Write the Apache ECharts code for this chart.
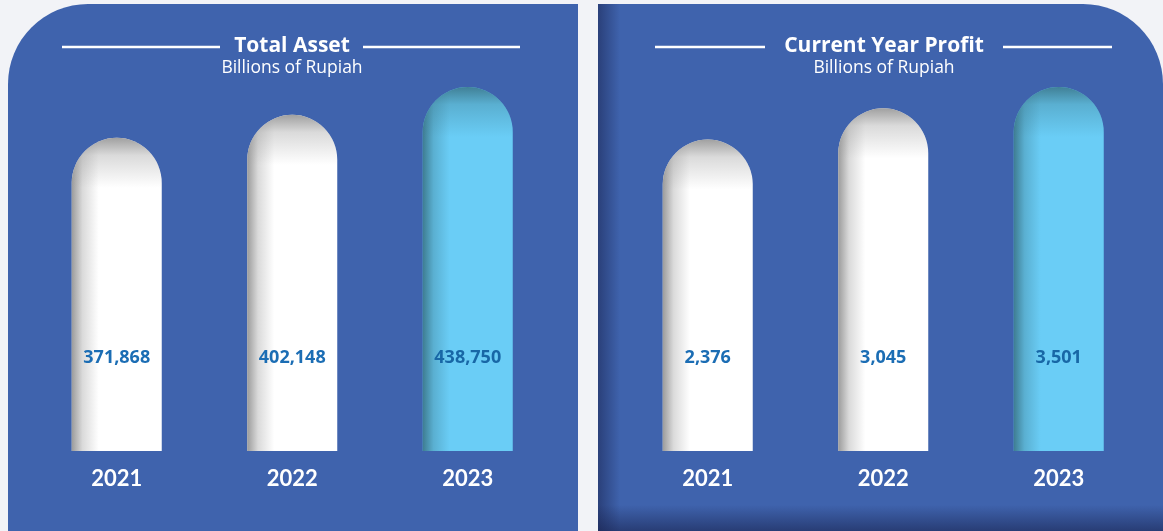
<!DOCTYPE html>
<html>
<head>
<meta charset="utf-8">
<script src="https://cdn.jsdelivr.net/npm/echarts@6/dist/echarts.min.js"></script>
<style>
html,body{margin:0;padding:0;background:#f2f3f7;}
#c{width:1163px;height:531px;}
</style>
</head>
<body>
<div id="c"></div>
<script>
var years = ['2021', '2022', '2023'];
var assetValues = [371868, 402148, 438750];
var profitValues = [2376, 3045, 3501];
var assetTitle = 'Total Asset';
var profitTitle = 'Current Year Profit';
var unitLabel = 'Billions of Rupiah';

var FONT = 'Lato';
var FONT2 = '"Open Sans"';
var PANEL = '#3f63ad';

function fmt(v){ return v.toLocaleString('en-US'); }

function makeRender(values, yMin){
  return function(params, api){
    var i = api.value(0);
    var v = api.value(1);
    var top = api.coord([i, v]);
    var base = api.coord([i, yMin]);
    var w = 90;
    var x = top[0] - w/2;
    var y = top[1];
    var h = base[1] - top[1];
    var last = i === values.length - 1;
    var baseColor = last ? '#6acdf6' : '#ffffff';
    var shade = last ? 'rgba(60,120,140,' : 'rgba(150,150,150,';
    var shape = {x:x, y:y, width:w, height:h, r:[45,45,0,0]};
    return {
      type:'group',
      children:[
        {type:'rect', shape:shape, style:{fill:baseColor}},
        {type:'rect', shape:shape, style:{fill:new echarts.graphic.LinearGradient(0,0,1,0,[
          {offset:0, color:shade+'0.95)'},
          {offset:0.12, color:shade+'0.35)'},
          {offset:0.3, color:shade+'0)'},
          {offset:1, color:shade+'0)'}
        ])}},
        {type:'rect', shape:shape, style:{fill:new echarts.graphic.LinearGradient(0,y,0,y+50,[
          {offset:0, color:shade+'0.9)'},
          {offset:0.35, color:shade+'0.35)'},
          {offset:1, color:shade+'0)'}
        ], true)}},
        {type:'text', style:{x:top[0], y:base[1]-93, text:fmt(v), align:'center', verticalAlign:'middle',
          font:'bold 18px ' + FONT2, fill: last ? '#1867a6' : '#1b6db4'}}
      ]
    };
  };
}

var assetMin = -40000, assetMax = 438750;
var profitMin = -4300, profitMax = 3501;

function titleGraphics(cx, text, lx1, lx2, rx1, rx2){
  return [
    {type:'line', shape:{x1:lx1, y1:47, x2:lx2, y2:47}, style:{stroke:'#fff', lineWidth:2.5}},
    {type:'line', shape:{x1:rx1, y1:47, x2:rx2, y2:47}, style:{stroke:'#fff', lineWidth:2.5}},
    {type:'text', style:{x:cx, y:46, text:text, align:'center', verticalAlign:'middle', font:'bold 21px ' + FONT2, fill:'#fff'}},
    {type:'text', style:{x:cx, y:68, text:unitLabel, align:'center', verticalAlign:'middle', font:'17.5px ' + FONT2, fill:'#fff'}}
  ];
}

var chart = echarts.init(document.getElementById('c'));
var graphics = [
  {type:'rect', z:-10, shape:{x:8, y:4, width:570, height:540, r:[80,0,0,0]}, style:{fill:PANEL}},
  {type:'rect', z:-10, shape:{x:598, y:4, width:565, height:540, r:[0,80,0,0]}, style:{fill:PANEL}},
  {type:'rect', z:-9, shape:{x:598, y:4, width:22, height:527}, style:{fill:new echarts.graphic.LinearGradient(0,0,1,0,[
    {offset:0, color:'rgba(25,35,80,0.55)'},{offset:1, color:'rgba(25,35,80,0)'}])}},
  {type:'rect', z:-9, shape:{x:598, y:505, width:565, height:26}, style:{fill:new echarts.graphic.LinearGradient(0,0,0,1,[
    {offset:0, color:'rgba(25,35,80,0)'},{offset:1, color:'rgba(25,35,80,0.6)'}])}}
].concat(titleGraphics(292, assetTitle, 62, 220, 363, 520))
 .concat(titleGraphics(884, profitTitle, 655, 765, 1003, 1112));

function xAxisCfg(idx){
  return {type:'category', gridIndex:idx, data:years,
    axisLine:{show:false}, axisTick:{show:false},
    axisLabel:{color:'#fff', fontSize:22, fontWeight:'bold', fontFamily:FONT, margin:17}};
}
function yAxisCfg(idx, mn, mx){
  return {type:'value', gridIndex:idx, min:mn, max:mx, show:false, splitLine:{show:false}};
}

chart.setOption({
  animation:false,
  graphic:{elements:graphics},
  grid:[
    {left:29, width:526.5, top:87, bottom:80},
    {left:620, width:526.5, top:87, bottom:80}
  ],
  xAxis:[xAxisCfg(0), xAxisCfg(1)],
  yAxis:[yAxisCfg(0, assetMin, assetMax), yAxisCfg(1, profitMin, profitMax)],
  series:[
    {type:'custom', xAxisIndex:0, yAxisIndex:0, data:assetValues.map(function(v,i){return [i,v];}),
      renderItem:makeRender(assetValues, assetMin), clip:false},
    {type:'custom', xAxisIndex:1, yAxisIndex:1, data:profitValues.map(function(v,i){return [i,v];}),
      renderItem:makeRender(profitValues, profitMin), clip:false}
  ]
});
</script>
</body>
</html>
